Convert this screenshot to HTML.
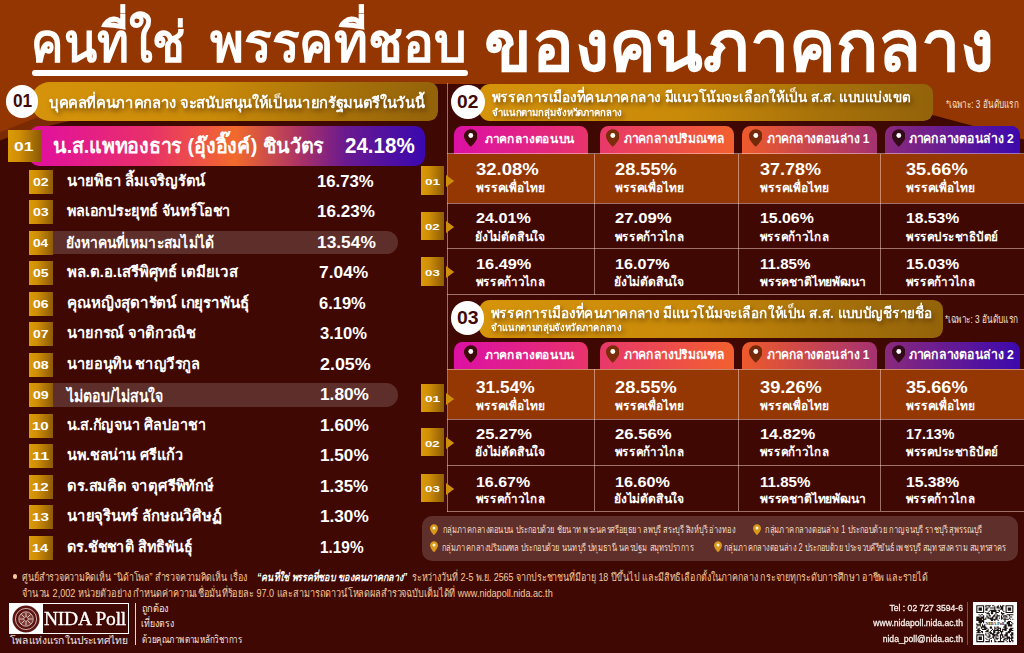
<!DOCTYPE html><html lang="th"><head><meta charset="utf-8"><title>คนที่ใช่ พรรคที่ชอบ ของคนภาคกลาง - NIDA Poll</title><style>html,body{margin:0;padding:0}body{width:1024px;height:653px;overflow:hidden;background:#3f0803;font-family:"Liberation Sans",sans-serif}
#p{position:relative;width:1024px;height:653px;overflow:hidden;background:#3f0803}
.bg{position:absolute;left:0;top:0}
.ab{position:absolute}
h1{margin:0;font-size:0}
svg.t{position:absolute;overflow:visible;width:1px;height:1px}
svg.t text{font-family:"Liberation Sans",sans-serif;white-space:pre}
svg.sh{filter:drop-shadow(2.500px 3.500px 2.500px rgba(70,35,0,.6))}
.nida{font-family:"Liberation Serif",serif;font-size:19.500px;line-height:31px;color:#fff;text-align:center;letter-spacing:-.2px;white-space:nowrap;-webkit-text-stroke:.35px #fff;will-change:transform;transform-origin:50% 50%}
.ct{font-family:"Liberation Sans",sans-serif;font-size:9.600px;line-height:12px;color:#f6eeea;text-align:right;white-space:nowrap;transform:scaleX(.895);transform-origin:100% 50%;-webkit-text-stroke:.3px #f6eeea}
</style></head><body><div id="p">
<svg class="bg" width="1024" height="653" viewBox="0 0 1024 653" aria-hidden="true"><path d="M0 100H80V119Q30 129 0 140.400Z" fill="#7b2b04"/><path d="M0 0H1024V139.5L915 110.2V84H62V108L30.600 120L0 132.300Z" fill="#943601"/></svg>
<h1 class="title" aria-label="คนที่ใช่ พรรคที่ชอบ ของคนภาคกลาง">
<svg class="t" style="left:31.17px;top:62.4px" role="img" aria-label="คนที่ใช่"><text x="0" y="0" font-size="55.3" font-weight="700" fill="#fff" textLength="154.7" lengthAdjust="spacingAndGlyphs">คนที่ใช่</text></svg>
<svg class="t" style="left:209.98px;top:62.4px" role="img" aria-label="พรรคที่ชอบ"><text x="0" y="0" font-size="55.3" font-weight="700" fill="#fff" textLength="256.3" lengthAdjust="spacingAndGlyphs">พรรคที่ชอบ</text></svg>
<svg class="t" style="left:484.28px;top:71.3px" role="img" aria-label="ของคนภาคกลาง"><text x="0" y="0" font-size="72.5" font-weight="700" fill="#fff" textLength="509.9" lengthAdjust="spacingAndGlyphs">ของคนภาคกลาง</text></svg>
</h1>
<div class="ab" style="left:31.8px;top:70.3px;width:436.7px;height:5.8px;background:#fff;border-radius:2.900px"></div>
<div class="ab pill" style="left:31px;top:82px;width:406.5px;height:39px;border-radius:19px 9.5px 9.5px 19px;background:linear-gradient(90deg,#d6940b 0%,#c98a0a 45%,#a8720a 75%,#93630a 100%)"></div>
<div class="ab" style="left:5.6px;top:84.8px;width:32.8px;height:32.8px;border-radius:50%;background:#fff"></div>
<svg class="t" style="left:12.9px;top:107.1px" role="img" aria-label="01"><text x="0" y="0" font-size="17.6" font-weight="700" fill="#3d0a08" textLength="19.2" lengthAdjust="spacingAndGlyphs">01</text></svg>
<svg class="t sh" style="left:48.51px;top:107.5px" role="img" aria-label="บุคคลที่คนภาคกลาง จะสนับสนุนให้เป็นนายกรัฐมนตรีในวันนี้"><text x="0" y="0" font-size="15.3" font-weight="700" fill="#fff" textLength="375.2" lengthAdjust="spacingAndGlyphs">บุคคลที่คนภาคกลาง จะสนับสนุนให้เป็นนายกรัฐมนตรีในวันนี้</text></svg>
<div class="ab" style="left:28.5px;top:125.5px;width:396.5px;height:40.5px;border-radius:10px;background:linear-gradient(90deg,#e10f9d 0%,#e2129a 4%,#e8306a 30%,#f26a2c 52%,#a83068 69%,#6a1a90 80%,#3a08b0 100%)"></div>
<div class="ab" style="left:8.3px;top:129.8px;width:32.5px;height:31.9px;background:linear-gradient(92deg,#dc9c06 0%,#cf8e06 35%,#a87006 72%,#8c5a05 100%)"></div>
<svg class="t" style="left:13.96px;top:150.8px" role="img" aria-label="01"><text x="0" y="0" font-size="13" font-weight="700" fill="#fff" textLength="19.5" lengthAdjust="spacingAndGlyphs">01</text></svg>
<svg class="t" style="left:52.99px;top:152.7px" role="img" aria-label="น.ส.แพทองธาร (อุ๊งอิ๊งค์) ชินวัตร"><text x="0" y="0" font-size="20.2" font-weight="700" fill="#fff" textLength="271.2" lengthAdjust="spacingAndGlyphs">น.ส.แพทองธาร (อุ๊งอิ๊งค์) ชินวัตร</text></svg>
<svg class="t" style="left:344.78px;top:152.85px" role="img" aria-label="24.18%"><text x="0" y="0" font-size="21.2" font-weight="700" fill="#fff" textLength="69.7" lengthAdjust="spacingAndGlyphs">24.18%</text></svg>
<div class="ab" style="left:29.2px;top:169.5px;width:23.6px;height:24px;background:linear-gradient(92deg,#dc9c06 0%,#cf8e06 35%,#a87006 72%,#8c5a05 100%)"></div>
<svg class="t" style="left:32.89px;top:185.6px" role="img" aria-label="02"><text x="0" y="0" font-size="10" font-weight="700" fill="#fff" textLength="15.6" lengthAdjust="spacingAndGlyphs">02</text></svg>
<svg class="t" style="left:66.82px;top:185.8px" role="img" aria-label="นายพิธา ลิ้มเจริญรัตน์"><text x="0" y="0" font-size="15.2" font-weight="700" fill="#fff" textLength="138" lengthAdjust="spacingAndGlyphs">นายพิธา ลิ้มเจริญรัตน์</text></svg>
<svg class="t" style="left:317.1px;top:186.5px" role="img" aria-label="16.73%"><text x="0" y="0" font-size="16.8" font-weight="700" fill="#fff" textLength="56.7" lengthAdjust="spacingAndGlyphs">16.73%</text></svg>
<div class="ab" style="left:29.2px;top:200px;width:23.6px;height:24px;background:linear-gradient(92deg,#dc9c06 0%,#cf8e06 35%,#a87006 72%,#8c5a05 100%)"></div>
<svg class="t" style="left:32.89px;top:216.1px" role="img" aria-label="03"><text x="0" y="0" font-size="10" font-weight="700" fill="#fff" textLength="15.7" lengthAdjust="spacingAndGlyphs">03</text></svg>
<svg class="t" style="left:67.27px;top:216.3px" role="img" aria-label="พลเอกประยุทธ์ จันทร์โอชา"><text x="0" y="0" font-size="15.2" font-weight="700" fill="#fff" textLength="163.5" lengthAdjust="spacingAndGlyphs">พลเอกประยุทธ์ จันทร์โอชา</text></svg>
<svg class="t" style="left:317.1px;top:217px" role="img" aria-label="16.23%"><text x="0" y="0" font-size="16.8" font-weight="700" fill="#fff" textLength="57.8" lengthAdjust="spacingAndGlyphs">16.23%</text></svg>
<div class="ab" style="left:52px;top:230.8px;width:346px;height:23.4px;border-radius:0 11.7px 11.7px 0;background:#5e2e2a"></div>
<div class="ab" style="left:29.2px;top:230.5px;width:23.6px;height:24px;background:linear-gradient(92deg,#dc9c06 0%,#cf8e06 35%,#a87006 72%,#8c5a05 100%)"></div>
<svg class="t" style="left:32.9px;top:246.6px" role="img" aria-label="04"><text x="0" y="0" font-size="10" font-weight="700" fill="#fff" textLength="15.2" lengthAdjust="spacingAndGlyphs">04</text></svg>
<svg class="t" style="left:65.94px;top:248.1px" role="img" aria-label="ยังหาคนที่เหมาะสมไม่ได้"><text x="0" y="0" font-size="15.2" font-weight="700" fill="#fff" textLength="148.1" lengthAdjust="spacingAndGlyphs">ยังหาคนที่เหมาะสมไม่ได้</text></svg>
<svg class="t" style="left:317.1px;top:247.5px" role="img" aria-label="13.54%"><text x="0" y="0" font-size="16.8" font-weight="700" fill="#fff" textLength="58.8" lengthAdjust="spacingAndGlyphs">13.54%</text></svg>
<div class="ab" style="left:29.2px;top:261px;width:23.6px;height:24px;background:linear-gradient(92deg,#dc9c06 0%,#cf8e06 35%,#a87006 72%,#8c5a05 100%)"></div>
<svg class="t" style="left:32.89px;top:277.1px" role="img" aria-label="05"><text x="0" y="0" font-size="10" font-weight="700" fill="#fff" textLength="15.6" lengthAdjust="spacingAndGlyphs">05</text></svg>
<svg class="t" style="left:67.27px;top:277.3px" role="img" aria-label="พล.ต.อ.เสรีพิศุทธ์ เตมียเวส"><text x="0" y="0" font-size="15.2" font-weight="700" fill="#fff" textLength="170.5" lengthAdjust="spacingAndGlyphs">พล.ต.อ.เสรีพิศุทธ์ เตมียเวส</text></svg>
<svg class="t" style="left:319.23px;top:278px" role="img" aria-label="7.04%"><text x="0" y="0" font-size="16.8" font-weight="700" fill="#fff" textLength="49.3" lengthAdjust="spacingAndGlyphs">7.04%</text></svg>
<div class="ab" style="left:29.2px;top:291.5px;width:23.6px;height:24px;background:linear-gradient(92deg,#dc9c06 0%,#cf8e06 35%,#a87006 72%,#8c5a05 100%)"></div>
<svg class="t" style="left:32.89px;top:307.6px" role="img" aria-label="06"><text x="0" y="0" font-size="10" font-weight="700" fill="#fff" textLength="15.5" lengthAdjust="spacingAndGlyphs">06</text></svg>
<svg class="t" style="left:66.82px;top:307.8px" role="img" aria-label="คุณหญิงสุดารัตน์ เกยุราพันธุ์"><text x="0" y="0" font-size="15.2" font-weight="700" fill="#fff" textLength="182.2" lengthAdjust="spacingAndGlyphs">คุณหญิงสุดารัตน์ เกยุราพันธุ์</text></svg>
<svg class="t" style="left:319.05px;top:308.5px" role="img" aria-label="6.19%"><text x="0" y="0" font-size="16.8" font-weight="700" fill="#fff" textLength="46.8" lengthAdjust="spacingAndGlyphs">6.19%</text></svg>
<div class="ab" style="left:29.2px;top:322px;width:23.6px;height:24px;background:linear-gradient(92deg,#dc9c06 0%,#cf8e06 35%,#a87006 72%,#8c5a05 100%)"></div>
<svg class="t" style="left:32.89px;top:338.1px" role="img" aria-label="07"><text x="0" y="0" font-size="10" font-weight="700" fill="#fff" textLength="15.5" lengthAdjust="spacingAndGlyphs">07</text></svg>
<svg class="t" style="left:66.82px;top:338.3px" role="img" aria-label="นายกรณ์ จาติกวณิช"><text x="0" y="0" font-size="15.2" font-weight="700" fill="#fff" textLength="128.4" lengthAdjust="spacingAndGlyphs">นายกรณ์ จาติกวณิช</text></svg>
<svg class="t" style="left:319.67px;top:339px" role="img" aria-label="3.10%"><text x="0" y="0" font-size="16.8" font-weight="700" fill="#fff" textLength="47" lengthAdjust="spacingAndGlyphs">3.10%</text></svg>
<div class="ab" style="left:29.2px;top:352.5px;width:23.6px;height:24px;background:linear-gradient(92deg,#dc9c06 0%,#cf8e06 35%,#a87006 72%,#8c5a05 100%)"></div>
<svg class="t" style="left:32.89px;top:368.6px" role="img" aria-label="08"><text x="0" y="0" font-size="10" font-weight="700" fill="#fff" textLength="15.7" lengthAdjust="spacingAndGlyphs">08</text></svg>
<svg class="t" style="left:66.82px;top:368.8px" role="img" aria-label="นายอนุทิน ชาญวีรกูล"><text x="0" y="0" font-size="15.2" font-weight="700" fill="#fff" textLength="132.7" lengthAdjust="spacingAndGlyphs">นายอนุทิน ชาญวีรกูล</text></svg>
<svg class="t" style="left:319.7px;top:369.5px" role="img" aria-label="2.05%"><text x="0" y="0" font-size="16.8" font-weight="700" fill="#fff" textLength="50.7" lengthAdjust="spacingAndGlyphs">2.05%</text></svg>
<div class="ab" style="left:52px;top:383.3px;width:346px;height:23.4px;border-radius:0 11.7px 11.7px 0;background:#5e2e2a"></div>
<div class="ab" style="left:29.2px;top:383px;width:23.6px;height:24px;background:linear-gradient(92deg,#dc9c06 0%,#cf8e06 35%,#a87006 72%,#8c5a05 100%)"></div>
<svg class="t" style="left:32.89px;top:399.1px" role="img" aria-label="09"><text x="0" y="0" font-size="10" font-weight="700" fill="#fff" textLength="15.7" lengthAdjust="spacingAndGlyphs">09</text></svg>
<svg class="t" style="left:66.88px;top:402.4px" role="img" aria-label="ไม่ตอบ/ไม่สนใจ"><text x="0" y="0" font-size="16.6" font-weight="700" fill="#fff" textLength="96.5" lengthAdjust="spacingAndGlyphs">ไม่ตอบ/ไม่สนใจ</text></svg>
<svg class="t" style="left:319.5px;top:400px" role="img" aria-label="1.80%"><text x="0" y="0" font-size="16.8" font-weight="700" fill="#fff" textLength="48.9" lengthAdjust="spacingAndGlyphs">1.80%</text></svg>
<div class="ab" style="left:29.2px;top:413.5px;width:23.6px;height:24px;background:linear-gradient(92deg,#dc9c06 0%,#cf8e06 35%,#a87006 72%,#8c5a05 100%)"></div>
<svg class="t" style="left:31.82px;top:429.6px" role="img" aria-label="10"><text x="0" y="0" font-size="10" font-weight="700" fill="#fff" textLength="16.7" lengthAdjust="spacingAndGlyphs">10</text></svg>
<svg class="t" style="left:66.82px;top:429.8px" role="img" aria-label="น.ส.กัญจนา ศิลปอาชา"><text x="0" y="0" font-size="15.2" font-weight="700" fill="#fff" textLength="139.2" lengthAdjust="spacingAndGlyphs">น.ส.กัญจนา ศิลปอาชา</text></svg>
<svg class="t" style="left:319.5px;top:430.5px" role="img" aria-label="1.60%"><text x="0" y="0" font-size="16.8" font-weight="700" fill="#fff" textLength="48.9" lengthAdjust="spacingAndGlyphs">1.60%</text></svg>
<div class="ab" style="left:29.2px;top:444px;width:23.6px;height:24px;background:linear-gradient(92deg,#dc9c06 0%,#cf8e06 35%,#a87006 72%,#8c5a05 100%)"></div>
<svg class="t" style="left:31.78px;top:460.1px" role="img" aria-label="11"><text x="0" y="0" font-size="10" font-weight="700" fill="#fff" textLength="17.2" lengthAdjust="spacingAndGlyphs">11</text></svg>
<svg class="t" style="left:66.82px;top:460.3px" role="img" aria-label="นพ.ชลน่าน ศรีแก้ว"><text x="0" y="0" font-size="15.2" font-weight="700" fill="#fff" textLength="116.4" lengthAdjust="spacingAndGlyphs">นพ.ชลน่าน ศรีแก้ว</text></svg>
<svg class="t" style="left:319.5px;top:461px" role="img" aria-label="1.50%"><text x="0" y="0" font-size="16.8" font-weight="700" fill="#fff" textLength="48.7" lengthAdjust="spacingAndGlyphs">1.50%</text></svg>
<div class="ab" style="left:29.2px;top:474.5px;width:23.6px;height:24px;background:linear-gradient(92deg,#dc9c06 0%,#cf8e06 35%,#a87006 72%,#8c5a05 100%)"></div>
<svg class="t" style="left:31.82px;top:490.6px" role="img" aria-label="12"><text x="0" y="0" font-size="10" font-weight="700" fill="#fff" textLength="16.7" lengthAdjust="spacingAndGlyphs">12</text></svg>
<svg class="t" style="left:67.12px;top:490.8px" role="img" aria-label="ดร.สมคิด จาตุศรีพิทักษ์"><text x="0" y="0" font-size="15.2" font-weight="700" fill="#fff" textLength="146.5" lengthAdjust="spacingAndGlyphs">ดร.สมคิด จาตุศรีพิทักษ์</text></svg>
<svg class="t" style="left:319.5px;top:491.5px" role="img" aria-label="1.35%"><text x="0" y="0" font-size="16.8" font-weight="700" fill="#fff" textLength="48.2" lengthAdjust="spacingAndGlyphs">1.35%</text></svg>
<div class="ab" style="left:29.2px;top:505px;width:23.6px;height:24px;background:linear-gradient(92deg,#dc9c06 0%,#cf8e06 35%,#a87006 72%,#8c5a05 100%)"></div>
<svg class="t" style="left:31.82px;top:521.1px" role="img" aria-label="13"><text x="0" y="0" font-size="10" font-weight="700" fill="#fff" textLength="16.8" lengthAdjust="spacingAndGlyphs">13</text></svg>
<svg class="t" style="left:66.82px;top:521.3px" role="img" aria-label="นายจุรินทร์ ลักษณวิศิษฏ์"><text x="0" y="0" font-size="15.2" font-weight="700" fill="#fff" textLength="154.5" lengthAdjust="spacingAndGlyphs">นายจุรินทร์ ลักษณวิศิษฏ์</text></svg>
<svg class="t" style="left:319.5px;top:522px" role="img" aria-label="1.30%"><text x="0" y="0" font-size="16.8" font-weight="700" fill="#fff" textLength="48.7" lengthAdjust="spacingAndGlyphs">1.30%</text></svg>
<div class="ab" style="left:29.2px;top:535.5px;width:23.6px;height:24px;background:linear-gradient(92deg,#dc9c06 0%,#cf8e06 35%,#a87006 72%,#8c5a05 100%)"></div>
<svg class="t" style="left:31.86px;top:551.6px" role="img" aria-label="14"><text x="0" y="0" font-size="10" font-weight="700" fill="#fff" textLength="16.2" lengthAdjust="spacingAndGlyphs">14</text></svg>
<svg class="t" style="left:67.12px;top:551.8px" role="img" aria-label="ดร.ชัชชาติ สิทธิพันธุ์"><text x="0" y="0" font-size="15.2" font-weight="700" fill="#fff" textLength="125.4" lengthAdjust="spacingAndGlyphs">ดร.ชัชชาติ สิทธิพันธุ์</text></svg>
<svg class="t" style="left:319.5px;top:552.5px" role="img" aria-label="1.19%"><text x="0" y="0" font-size="16.8" font-weight="700" fill="#fff" textLength="43.6" lengthAdjust="spacingAndGlyphs">1.19%</text></svg>
<div class="ab" style="left:447px;top:83px;width:1px;height:428.5px;background:rgba(255,215,208,.5)"></div>
<div class="ab pill" style="left:479px;top:83.75px;width:453.75px;height:37.5px;border-radius:11px 9.5px 9.5px 11px;background:linear-gradient(90deg,#d6940b 0%,#c98a0a 45%,#a8720a 75%,#93630a 100%)"></div>
<div class="ab" style="left:451.2px;top:85.1px;width:33.8px;height:33.8px;border-radius:50%;background:#fff"></div>
<svg class="t" style="left:457.41px;top:107.9px" role="img" aria-label="02"><text x="0" y="0" font-size="17.6" font-weight="700" fill="#3d0a08" textLength="21.3" lengthAdjust="spacingAndGlyphs">02</text></svg>
<svg class="t sh" style="left:492.08px;top:102.2px" role="img" aria-label="พรรคการเมืองที่คนภาคกลาง มีแนวโน้มจะเลือกให้เป็น ส.ส. แบบแบ่งเขต"><text x="0" y="0" font-size="14.3" font-weight="700" fill="#fff" textLength="419" lengthAdjust="spacingAndGlyphs">พรรคการเมืองที่คนภาคกลาง มีแนวโน้มจะเลือกให้เป็น ส.ส. แบบแบ่งเขต</text></svg>
<svg class="t sh" style="left:492.05px;top:116px" role="img" aria-label="จำแนกตามกลุ่มจังหวัดภาคกลาง"><text x="0" y="0" font-size="9.7" font-weight="700" fill="#fff" textLength="129.6" lengthAdjust="spacingAndGlyphs">จำแนกตามกลุ่มจังหวัดภาคกลาง</text></svg>
<svg class="t" style="left:945.67px;top:107.8px" role="img" aria-label="*เฉพาะ: 3 อันดับแรก"><text x="0" y="0" font-size="11" fill="#f6e3d4" textLength="72.9" lengthAdjust="spacingAndGlyphs">*เฉพาะ: 3 อันดับแรก</text></svg>
<div class="ab" style="left:453.5px;top:125.5px;width:134.5px;height:28px;border-radius:8.5px 8.5px 0 0;background:linear-gradient(90deg,#dc10a4,#e8336c)"></div>
<svg class="ab" style="left:463.5px;top:128.7px" width="13.6" height="18.2" viewBox="0 0 24 31" aria-hidden="true"><path d="M12 0C5.4 0 0 5.2 0 11.8c0 8 9.5 16.6 12 19.2 2.5-2.6 12-11.200 12-19.200C24 5.200 18.600 0 12 0z" fill="#3d0a0a"/><circle cx="12" cy="11" r="4.300" fill="#fff"/></svg>
<svg class="t" style="left:484.99px;top:143.4px" role="img" aria-label="ภาคกลางตอนบน"><text x="0" y="0" font-size="12.5" font-weight="700" fill="#fff" textLength="90" lengthAdjust="spacingAndGlyphs">ภาคกลางตอนบน</text></svg>
<div class="ab" style="left:599.5px;top:125.5px;width:134px;height:28px;border-radius:8.5px 8.5px 0 0;background:linear-gradient(90deg,#e8386a,#f2602e)"></div>
<svg class="ab" style="left:605.7px;top:128.7px" width="13.6" height="18.2" viewBox="0 0 24 31" aria-hidden="true"><path d="M12 0C5.4 0 0 5.2 0 11.8c0 8 9.5 16.6 12 19.2 2.5-2.6 12-11.200 12-19.200C24 5.200 18.600 0 12 0z" fill="#7a2d08"/><circle cx="12" cy="11" r="4.300" fill="#fff"/></svg>
<svg class="t" style="left:624.19px;top:143.4px" role="img" aria-label="ภาคกลางปริมณฑล"><text x="0" y="0" font-size="12.6" font-weight="700" fill="#fff" textLength="100.4" lengthAdjust="spacingAndGlyphs">ภาคกลางปริมณฑล</text></svg>
<div class="ab" style="left:742px;top:125.5px;width:134.75px;height:28px;border-radius:8.5px 8.5px 0 0;background:linear-gradient(90deg,#ee5a2c,#a43270)"></div>
<svg class="ab" style="left:748.7px;top:128.7px" width="13.6" height="18.2" viewBox="0 0 24 31" aria-hidden="true"><path d="M12 0C5.4 0 0 5.2 0 11.8c0 8 9.5 16.6 12 19.2 2.5-2.6 12-11.200 12-19.200C24 5.200 18.600 0 12 0z" fill="#742a08"/><circle cx="12" cy="11" r="4.300" fill="#fff"/></svg>
<svg class="t" style="left:766.68px;top:143.4px" role="img" aria-label="ภาคกลางตอนล่าง 1"><text x="0" y="0" font-size="12.7" font-weight="700" fill="#fff" textLength="102.4" lengthAdjust="spacingAndGlyphs">ภาคกลางตอนล่าง 1</text></svg>
<div class="ab" style="left:885.3px;top:125.5px;width:134.3px;height:28px;border-radius:8.5px 8.5px 0 0;background:linear-gradient(90deg,#8a2a7c,#3c09ae)"></div>
<svg class="ab" style="left:891.7px;top:128.7px" width="13.6" height="18.2" viewBox="0 0 24 31" aria-hidden="true"><path d="M12 0C5.4 0 0 5.2 0 11.8c0 8 9.5 16.6 12 19.2 2.5-2.6 12-11.200 12-19.200C24 5.200 18.600 0 12 0z" fill="#330a18"/><circle cx="12" cy="11" r="4.300" fill="#fff"/></svg>
<svg class="t" style="left:909.18px;top:143.4px" role="img" aria-label="ภาคกลางตอนล่าง 2"><text x="0" y="0" font-size="12.7" font-weight="700" fill="#fff" textLength="104.7" lengthAdjust="spacingAndGlyphs">ภาคกลางตอนล่าง 2</text></svg>
<div class="ab" style="left:448px;top:153.5px;width:576px;height:49.8px;background:#943702"></div>
<div class="ab" style="left:447px;top:153px;width:577px;height:1px;background:rgba(255,215,208,.5)"></div>
<div class="ab" style="left:447px;top:202.8px;width:577px;height:1px;background:rgba(255,215,208,.5)"></div>
<div class="ab" style="left:447px;top:248.3px;width:577px;height:1px;background:rgba(255,215,208,.5)"></div>
<div class="ab" style="left:447px;top:294px;width:577px;height:1px;background:rgba(255,215,208,.5)"></div>
<div class="ab" style="left:594px;top:153.5px;width:1px;height:141px;background:rgba(255,215,208,.5)"></div>
<div class="ab" style="left:737.5px;top:153.5px;width:1px;height:141px;background:rgba(255,215,208,.5)"></div>
<div class="ab" style="left:879.7px;top:153.5px;width:1px;height:141px;background:rgba(255,215,208,.5)"></div>
<div class="ab" style="left:421.2px;top:166.2px;width:23.3px;height:28.4px;background:linear-gradient(92deg,#dc9c06 0%,#cf8e06 35%,#a87006 72%,#8c5a05 100%)"></div>
<svg class="ab" style="left:446px;top:175.2px" width="8.500" height="12" viewBox="0 0 8.500 12" aria-hidden="true"><path d="M0 0L8.200 6L0 12Z" fill="#cf8e08"/></svg>
<svg class="t" style="left:424.7px;top:184.7px" role="img" aria-label="01"><text x="0" y="0" font-size="9.5" font-weight="700" fill="#fff" textLength="15.2" lengthAdjust="spacingAndGlyphs">01</text></svg>
<svg class="t" style="left:476.37px;top:174.7px" role="img" aria-label="32.08%"><text x="0" y="0" font-size="17.4" font-weight="700" fill="#fff" textLength="62.8" lengthAdjust="spacingAndGlyphs">32.08%</text></svg>
<svg class="t" style="left:475.62px;top:192.4px" role="img" aria-label="พรรคเพื่อไทย"><text x="0" y="0" font-size="12.2" font-weight="700" fill="#fff" textLength="68.6" lengthAdjust="spacingAndGlyphs">พรรคเพื่อไทย</text></svg>
<svg class="t" style="left:615.4px;top:174.7px" role="img" aria-label="28.55%"><text x="0" y="0" font-size="17.4" font-weight="700" fill="#fff" textLength="61.8" lengthAdjust="spacingAndGlyphs">28.55%</text></svg>
<svg class="t" style="left:614.62px;top:192.4px" role="img" aria-label="พรรคเพื่อไทย"><text x="0" y="0" font-size="12.2" font-weight="700" fill="#fff" textLength="68.6" lengthAdjust="spacingAndGlyphs">พรรคเพื่อไทย</text></svg>
<svg class="t" style="left:760.37px;top:174.7px" role="img" aria-label="37.78%"><text x="0" y="0" font-size="17.4" font-weight="700" fill="#fff" textLength="61.1" lengthAdjust="spacingAndGlyphs">37.78%</text></svg>
<svg class="t" style="left:759.62px;top:192.4px" role="img" aria-label="พรรคเพื่อไทย"><text x="0" y="0" font-size="12.2" font-weight="700" fill="#fff" textLength="68.6" lengthAdjust="spacingAndGlyphs">พรรคเพื่อไทย</text></svg>
<svg class="t" style="left:906.37px;top:174.7px" role="img" aria-label="35.66%"><text x="0" y="0" font-size="17.4" font-weight="700" fill="#fff" textLength="61.6" lengthAdjust="spacingAndGlyphs">35.66%</text></svg>
<svg class="t" style="left:905.62px;top:192.4px" role="img" aria-label="พรรคเพื่อไทย"><text x="0" y="0" font-size="12.2" font-weight="700" fill="#fff" textLength="68.6" lengthAdjust="spacingAndGlyphs">พรรคเพื่อไทย</text></svg>
<div class="ab" style="left:421.2px;top:211.85px;width:23.3px;height:28.4px;background:linear-gradient(92deg,#dc9c06 0%,#cf8e06 35%,#a87006 72%,#8c5a05 100%)"></div>
<svg class="ab" style="left:446px;top:220.85px" width="8.500" height="12" viewBox="0 0 8.500 12" aria-hidden="true"><path d="M0 0L8.200 6L0 12Z" fill="#cf8e08"/></svg>
<svg class="t" style="left:424.72px;top:230.35px" role="img" aria-label="02"><text x="0" y="0" font-size="9.5" font-weight="700" fill="#fff" textLength="14.7" lengthAdjust="spacingAndGlyphs">02</text></svg>
<svg class="t" style="left:476.39px;top:223.1px" role="img" aria-label="24.01%"><text x="0" y="0" font-size="15.1" font-weight="700" fill="#fff" textLength="54.9" lengthAdjust="spacingAndGlyphs">24.01%</text></svg>
<svg class="t" style="left:475.43px;top:240.9px" role="img" aria-label="ยังไม่ตัดสินใจ"><text x="0" y="0" font-size="12.4" font-weight="700" fill="#fff" textLength="69.9" lengthAdjust="spacingAndGlyphs">ยังไม่ตัดสินใจ</text></svg>
<svg class="t" style="left:615.39px;top:223.1px" role="img" aria-label="27.09%"><text x="0" y="0" font-size="15.1" font-weight="700" fill="#fff" textLength="56.7" lengthAdjust="spacingAndGlyphs">27.09%</text></svg>
<svg class="t" style="left:614.61px;top:240.9px" role="img" aria-label="พรรคก้าวไกล"><text x="0" y="0" font-size="12.4" font-weight="700" fill="#fff" textLength="69" lengthAdjust="spacingAndGlyphs">พรรคก้าวไกล</text></svg>
<svg class="t" style="left:760.21px;top:223.1px" role="img" aria-label="15.06%"><text x="0" y="0" font-size="15.1" font-weight="700" fill="#fff" textLength="53.8" lengthAdjust="spacingAndGlyphs">15.06%</text></svg>
<svg class="t" style="left:759.61px;top:240.9px" role="img" aria-label="พรรคก้าวไกล"><text x="0" y="0" font-size="12.4" font-weight="700" fill="#fff" textLength="69" lengthAdjust="spacingAndGlyphs">พรรคก้าวไกล</text></svg>
<svg class="t" style="left:906.21px;top:223.1px" role="img" aria-label="18.53%"><text x="0" y="0" font-size="15.1" font-weight="700" fill="#fff" textLength="53.3" lengthAdjust="spacingAndGlyphs">18.53%</text></svg>
<svg class="t" style="left:905.61px;top:240.9px" role="img" aria-label="พรรคประชาธิปัตย์"><text x="0" y="0" font-size="12.4" font-weight="700" fill="#fff" textLength="91.9" lengthAdjust="spacingAndGlyphs">พรรคประชาธิปัตย์</text></svg>
<div class="ab" style="left:421.2px;top:257.45px;width:23.3px;height:28.4px;background:linear-gradient(92deg,#dc9c06 0%,#cf8e06 35%,#a87006 72%,#8c5a05 100%)"></div>
<svg class="ab" style="left:446px;top:266.45px" width="8.500" height="12" viewBox="0 0 8.500 12" aria-hidden="true"><path d="M0 0L8.200 6L0 12Z" fill="#cf8e08"/></svg>
<svg class="t" style="left:424.71px;top:275.95px" role="img" aria-label="03"><text x="0" y="0" font-size="9.5" font-weight="700" fill="#fff" textLength="14.8" lengthAdjust="spacingAndGlyphs">03</text></svg>
<svg class="t" style="left:476.21px;top:269.2px" role="img" aria-label="16.49%"><text x="0" y="0" font-size="15.1" font-weight="700" fill="#fff" textLength="55.4" lengthAdjust="spacingAndGlyphs">16.49%</text></svg>
<svg class="t" style="left:475.61px;top:286.4px" role="img" aria-label="พรรคก้าวไกล"><text x="0" y="0" font-size="12.4" font-weight="700" fill="#fff" textLength="69" lengthAdjust="spacingAndGlyphs">พรรคก้าวไกล</text></svg>
<svg class="t" style="left:615.21px;top:269.2px" role="img" aria-label="16.07%"><text x="0" y="0" font-size="15.1" font-weight="700" fill="#fff" textLength="54.7" lengthAdjust="spacingAndGlyphs">16.07%</text></svg>
<svg class="t" style="left:614.43px;top:286.4px" role="img" aria-label="ยังไม่ตัดสินใจ"><text x="0" y="0" font-size="12.4" font-weight="700" fill="#fff" textLength="69.9" lengthAdjust="spacingAndGlyphs">ยังไม่ตัดสินใจ</text></svg>
<svg class="t" style="left:760.21px;top:269.2px" role="img" aria-label="11.85%"><text x="0" y="0" font-size="15.1" font-weight="700" fill="#fff" textLength="50.3" lengthAdjust="spacingAndGlyphs">11.85%</text></svg>
<svg class="t" style="left:759.61px;top:286.4px" role="img" aria-label="พรรคชาติไทยพัฒนา"><text x="0" y="0" font-size="12.4" font-weight="700" fill="#fff" textLength="105.4" lengthAdjust="spacingAndGlyphs">พรรคชาติไทยพัฒนา</text></svg>
<svg class="t" style="left:906.21px;top:269.2px" role="img" aria-label="15.03%"><text x="0" y="0" font-size="15.1" font-weight="700" fill="#fff" textLength="53.1" lengthAdjust="spacingAndGlyphs">15.03%</text></svg>
<svg class="t" style="left:905.61px;top:286.4px" role="img" aria-label="พรรคก้าวไกล"><text x="0" y="0" font-size="12.4" font-weight="700" fill="#fff" textLength="69" lengthAdjust="spacingAndGlyphs">พรรคก้าวไกล</text></svg>
<div class="ab pill" style="left:479px;top:300px;width:464px;height:37.5px;border-radius:11px 9.5px 9.5px 11px;background:linear-gradient(90deg,#d6940b 0%,#c98a0a 45%,#a8720a 75%,#93630a 100%)"></div>
<div class="ab" style="left:450.6px;top:301.1px;width:33.8px;height:33.8px;border-radius:50%;background:#fff"></div>
<svg class="t" style="left:456.7px;top:323.9px" role="img" aria-label="03"><text x="0" y="0" font-size="17.6" font-weight="700" fill="#3d0a08" textLength="21.6" lengthAdjust="spacingAndGlyphs">03</text></svg>
<svg class="t sh" style="left:491.08px;top:318.1px" role="img" aria-label="พรรคการเมืองที่คนภาคกลาง มีแนวโน้มจะเลือกให้เป็น ส.ส. แบบบัญชีรายชื่อ"><text x="0" y="0" font-size="14.3" font-weight="700" fill="#fff" textLength="441.7" lengthAdjust="spacingAndGlyphs">พรรคการเมืองที่คนภาคกลาง มีแนวโน้มจะเลือกให้เป็น ส.ส. แบบบัญชีรายชื่อ</text></svg>
<svg class="t sh" style="left:491.05px;top:331.4px" role="img" aria-label="จำแนกตามกลุ่มจังหวัดภาคกลาง"><text x="0" y="0" font-size="9.8" font-weight="700" fill="#fff" textLength="130.6" lengthAdjust="spacingAndGlyphs">จำแนกตามกลุ่มจังหวัดภาคกลาง</text></svg>
<svg class="t" style="left:945.17px;top:322.5px" role="img" aria-label="*เฉพาะ: 3 อันดับแรก"><text x="0" y="0" font-size="11" fill="#f6e3d4" textLength="73.4" lengthAdjust="spacingAndGlyphs">*เฉพาะ: 3 อันดับแรก</text></svg>
<div class="ab" style="left:453.5px;top:342.2px;width:134.5px;height:26.8px;border-radius:8.5px 8.5px 0 0;background:linear-gradient(90deg,#dc10a4,#e8336c)"></div>
<svg class="ab" style="left:463.5px;top:345.4px" width="13.6" height="18.2" viewBox="0 0 24 31" aria-hidden="true"><path d="M12 0C5.4 0 0 5.2 0 11.8c0 8 9.5 16.6 12 19.2 2.5-2.6 12-11.200 12-19.200C24 5.200 18.600 0 12 0z" fill="#3d0a0a"/><circle cx="12" cy="11" r="4.300" fill="#fff"/></svg>
<svg class="t" style="left:484.99px;top:358.9px" role="img" aria-label="ภาคกลางตอนบน"><text x="0" y="0" font-size="12.5" font-weight="700" fill="#fff" textLength="90" lengthAdjust="spacingAndGlyphs">ภาคกลางตอนบน</text></svg>
<div class="ab" style="left:599.5px;top:342.2px;width:134px;height:26.8px;border-radius:8.5px 8.5px 0 0;background:linear-gradient(90deg,#e8386a,#f2602e)"></div>
<svg class="ab" style="left:605.7px;top:345.4px" width="13.6" height="18.2" viewBox="0 0 24 31" aria-hidden="true"><path d="M12 0C5.4 0 0 5.2 0 11.8c0 8 9.5 16.6 12 19.2 2.5-2.6 12-11.200 12-19.200C24 5.200 18.600 0 12 0z" fill="#7a2d08"/><circle cx="12" cy="11" r="4.300" fill="#fff"/></svg>
<svg class="t" style="left:624.19px;top:358.9px" role="img" aria-label="ภาคกลางปริมณฑล"><text x="0" y="0" font-size="12.6" font-weight="700" fill="#fff" textLength="100.4" lengthAdjust="spacingAndGlyphs">ภาคกลางปริมณฑล</text></svg>
<div class="ab" style="left:742px;top:342.2px;width:134.75px;height:26.8px;border-radius:8.5px 8.5px 0 0;background:linear-gradient(90deg,#ee5a2c,#a43270)"></div>
<svg class="ab" style="left:748.7px;top:345.4px" width="13.6" height="18.2" viewBox="0 0 24 31" aria-hidden="true"><path d="M12 0C5.4 0 0 5.2 0 11.8c0 8 9.5 16.6 12 19.2 2.5-2.6 12-11.200 12-19.200C24 5.200 18.600 0 12 0z" fill="#742a08"/><circle cx="12" cy="11" r="4.300" fill="#fff"/></svg>
<svg class="t" style="left:766.68px;top:358.9px" role="img" aria-label="ภาคกลางตอนล่าง 1"><text x="0" y="0" font-size="12.7" font-weight="700" fill="#fff" textLength="102.4" lengthAdjust="spacingAndGlyphs">ภาคกลางตอนล่าง 1</text></svg>
<div class="ab" style="left:885.3px;top:342.2px;width:134.3px;height:26.8px;border-radius:8.5px 8.5px 0 0;background:linear-gradient(90deg,#8a2a7c,#3c09ae)"></div>
<svg class="ab" style="left:891.7px;top:345.4px" width="13.6" height="18.2" viewBox="0 0 24 31" aria-hidden="true"><path d="M12 0C5.4 0 0 5.2 0 11.8c0 8 9.5 16.6 12 19.2 2.5-2.6 12-11.200 12-19.200C24 5.200 18.600 0 12 0z" fill="#330a18"/><circle cx="12" cy="11" r="4.300" fill="#fff"/></svg>
<svg class="t" style="left:909.18px;top:358.9px" role="img" aria-label="ภาคกลางตอนล่าง 2"><text x="0" y="0" font-size="12.7" font-weight="700" fill="#fff" textLength="104.7" lengthAdjust="spacingAndGlyphs">ภาคกลางตอนล่าง 2</text></svg>
<div class="ab" style="left:448px;top:369.2px;width:576px;height:50.2px;background:#943702"></div>
<div class="ab" style="left:447px;top:368.7px;width:577px;height:1px;background:rgba(255,215,208,.5)"></div>
<div class="ab" style="left:447px;top:418.9px;width:577px;height:1px;background:rgba(255,215,208,.5)"></div>
<div class="ab" style="left:447px;top:464.5px;width:577px;height:1px;background:rgba(255,215,208,.5)"></div>
<div class="ab" style="left:447px;top:510.8px;width:577px;height:1px;background:rgba(255,215,208,.5)"></div>
<div class="ab" style="left:594px;top:369.2px;width:1px;height:142.1px;background:rgba(255,215,208,.5)"></div>
<div class="ab" style="left:737.5px;top:369.2px;width:1px;height:142.1px;background:rgba(255,215,208,.5)"></div>
<div class="ab" style="left:879.7px;top:369.2px;width:1px;height:142.1px;background:rgba(255,215,208,.5)"></div>
<div class="ab" style="left:421.2px;top:383.6px;width:23.3px;height:28.4px;background:linear-gradient(92deg,#dc9c06 0%,#cf8e06 35%,#a87006 72%,#8c5a05 100%)"></div>
<svg class="ab" style="left:446px;top:392.6px" width="8.500" height="12" viewBox="0 0 8.500 12" aria-hidden="true"><path d="M0 0L8.200 6L0 12Z" fill="#cf8e08"/></svg>
<svg class="t" style="left:424.7px;top:402.1px" role="img" aria-label="01"><text x="0" y="0" font-size="9.5" font-weight="700" fill="#fff" textLength="15.2" lengthAdjust="spacingAndGlyphs">01</text></svg>
<svg class="t" style="left:476.37px;top:393.3px" role="img" aria-label="31.54%"><text x="0" y="0" font-size="17.4" font-weight="700" fill="#fff" textLength="58.6" lengthAdjust="spacingAndGlyphs">31.54%</text></svg>
<svg class="t" style="left:475.62px;top:410.4px" role="img" aria-label="พรรคเพื่อไทย"><text x="0" y="0" font-size="12.2" font-weight="700" fill="#fff" textLength="68.6" lengthAdjust="spacingAndGlyphs">พรรคเพื่อไทย</text></svg>
<svg class="t" style="left:615.4px;top:393.3px" role="img" aria-label="28.55%"><text x="0" y="0" font-size="17.4" font-weight="700" fill="#fff" textLength="61.8" lengthAdjust="spacingAndGlyphs">28.55%</text></svg>
<svg class="t" style="left:614.62px;top:410.4px" role="img" aria-label="พรรคเพื่อไทย"><text x="0" y="0" font-size="12.2" font-weight="700" fill="#fff" textLength="68.6" lengthAdjust="spacingAndGlyphs">พรรคเพื่อไทย</text></svg>
<svg class="t" style="left:760.37px;top:393.3px" role="img" aria-label="39.26%"><text x="0" y="0" font-size="17.4" font-weight="700" fill="#fff" textLength="61.8" lengthAdjust="spacingAndGlyphs">39.26%</text></svg>
<svg class="t" style="left:759.62px;top:410.4px" role="img" aria-label="พรรคเพื่อไทย"><text x="0" y="0" font-size="12.2" font-weight="700" fill="#fff" textLength="68.6" lengthAdjust="spacingAndGlyphs">พรรคเพื่อไทย</text></svg>
<svg class="t" style="left:906.37px;top:393.3px" role="img" aria-label="35.66%"><text x="0" y="0" font-size="17.4" font-weight="700" fill="#fff" textLength="61.6" lengthAdjust="spacingAndGlyphs">35.66%</text></svg>
<svg class="t" style="left:905.62px;top:410.4px" role="img" aria-label="พรรคเพื่อไทย"><text x="0" y="0" font-size="12.2" font-weight="700" fill="#fff" textLength="68.6" lengthAdjust="spacingAndGlyphs">พรรคเพื่อไทย</text></svg>
<div class="ab" style="left:421.2px;top:428px;width:23.3px;height:28.4px;background:linear-gradient(92deg,#dc9c06 0%,#cf8e06 35%,#a87006 72%,#8c5a05 100%)"></div>
<svg class="ab" style="left:446px;top:437px" width="8.500" height="12" viewBox="0 0 8.500 12" aria-hidden="true"><path d="M0 0L8.200 6L0 12Z" fill="#cf8e08"/></svg>
<svg class="t" style="left:424.72px;top:446.5px" role="img" aria-label="02"><text x="0" y="0" font-size="9.5" font-weight="700" fill="#fff" textLength="14.7" lengthAdjust="spacingAndGlyphs">02</text></svg>
<svg class="t" style="left:476.39px;top:438.7px" role="img" aria-label="25.27%"><text x="0" y="0" font-size="15.1" font-weight="700" fill="#fff" textLength="56" lengthAdjust="spacingAndGlyphs">25.27%</text></svg>
<svg class="t" style="left:475.43px;top:456.4px" role="img" aria-label="ยังไม่ตัดสินใจ"><text x="0" y="0" font-size="12.4" font-weight="700" fill="#fff" textLength="69.9" lengthAdjust="spacingAndGlyphs">ยังไม่ตัดสินใจ</text></svg>
<svg class="t" style="left:615.39px;top:438.7px" role="img" aria-label="26.56%"><text x="0" y="0" font-size="15.1" font-weight="700" fill="#fff" textLength="56.6" lengthAdjust="spacingAndGlyphs">26.56%</text></svg>
<svg class="t" style="left:614.61px;top:456.4px" role="img" aria-label="พรรคก้าวไกล"><text x="0" y="0" font-size="12.4" font-weight="700" fill="#fff" textLength="69" lengthAdjust="spacingAndGlyphs">พรรคก้าวไกล</text></svg>
<svg class="t" style="left:760.21px;top:438.7px" role="img" aria-label="14.82%"><text x="0" y="0" font-size="15.1" font-weight="700" fill="#fff" textLength="55.3" lengthAdjust="spacingAndGlyphs">14.82%</text></svg>
<svg class="t" style="left:759.61px;top:456.4px" role="img" aria-label="พรรคก้าวไกล"><text x="0" y="0" font-size="12.4" font-weight="700" fill="#fff" textLength="69" lengthAdjust="spacingAndGlyphs">พรรคก้าวไกล</text></svg>
<svg class="t" style="left:906.21px;top:438.7px" role="img" aria-label="17.13%"><text x="0" y="0" font-size="15.1" font-weight="700" fill="#fff" textLength="48.5" lengthAdjust="spacingAndGlyphs">17.13%</text></svg>
<svg class="t" style="left:905.61px;top:456.4px" role="img" aria-label="พรรคประชาธิปัตย์"><text x="0" y="0" font-size="12.4" font-weight="700" fill="#fff" textLength="91.9" lengthAdjust="spacingAndGlyphs">พรรคประชาธิปัตย์</text></svg>
<div class="ab" style="left:421.2px;top:473.95px;width:23.3px;height:28.4px;background:linear-gradient(92deg,#dc9c06 0%,#cf8e06 35%,#a87006 72%,#8c5a05 100%)"></div>
<svg class="ab" style="left:446px;top:482.95px" width="8.500" height="12" viewBox="0 0 8.500 12" aria-hidden="true"><path d="M0 0L8.200 6L0 12Z" fill="#cf8e08"/></svg>
<svg class="t" style="left:424.71px;top:492.45px" role="img" aria-label="03"><text x="0" y="0" font-size="9.5" font-weight="700" fill="#fff" textLength="14.8" lengthAdjust="spacingAndGlyphs">03</text></svg>
<svg class="t" style="left:476.21px;top:486.6px" role="img" aria-label="16.67%"><text x="0" y="0" font-size="15.1" font-weight="700" fill="#fff" textLength="54.1" lengthAdjust="spacingAndGlyphs">16.67%</text></svg>
<svg class="t" style="left:475.61px;top:503.4px" role="img" aria-label="พรรคก้าวไกล"><text x="0" y="0" font-size="12.4" font-weight="700" fill="#fff" textLength="69" lengthAdjust="spacingAndGlyphs">พรรคก้าวไกล</text></svg>
<svg class="t" style="left:615.21px;top:486.6px" role="img" aria-label="16.60%"><text x="0" y="0" font-size="15.1" font-weight="700" fill="#fff" textLength="54.9" lengthAdjust="spacingAndGlyphs">16.60%</text></svg>
<svg class="t" style="left:614.43px;top:503.4px" role="img" aria-label="ยังไม่ตัดสินใจ"><text x="0" y="0" font-size="12.4" font-weight="700" fill="#fff" textLength="69.9" lengthAdjust="spacingAndGlyphs">ยังไม่ตัดสินใจ</text></svg>
<svg class="t" style="left:760.21px;top:486.6px" role="img" aria-label="11.85%"><text x="0" y="0" font-size="15.1" font-weight="700" fill="#fff" textLength="50.3" lengthAdjust="spacingAndGlyphs">11.85%</text></svg>
<svg class="t" style="left:759.61px;top:503.4px" role="img" aria-label="พรรคชาติไทยพัฒนา"><text x="0" y="0" font-size="12.4" font-weight="700" fill="#fff" textLength="105.4" lengthAdjust="spacingAndGlyphs">พรรคชาติไทยพัฒนา</text></svg>
<svg class="t" style="left:906.21px;top:486.6px" role="img" aria-label="15.38%"><text x="0" y="0" font-size="15.1" font-weight="700" fill="#fff" textLength="53.3" lengthAdjust="spacingAndGlyphs">15.38%</text></svg>
<svg class="t" style="left:905.61px;top:503.4px" role="img" aria-label="พรรคก้าวไกล"><text x="0" y="0" font-size="12.4" font-weight="700" fill="#fff" textLength="69" lengthAdjust="spacingAndGlyphs">พรรคก้าวไกล</text></svg>
<div class="ab" style="left:422px;top:515.8px;width:595.8px;height:45.2px;border-radius:10px;background:#5e2f2b"></div>
<svg class="ab" style="left:430px;top:523.9px" width="8" height="11.500" viewBox="0 0 24 33" aria-hidden="true"><path d="M12 0C5.4 0 0 5.2 0 11.8c0 8 9.5 18.600 12 21.200 2.5-2.6 12-13.200 12-21.200C24 5.200 18.600 0 12 0z" fill="#d9981a"/><circle cx="12" cy="11.500" r="4.500" fill="#fff6e0"/></svg>
<svg class="t" style="left:442.71px;top:533.4px" role="img" aria-label="กลุ่มภาคกลางตอนบน ประกอบด้วย ชัยนาท พระนครศรีอยุธยา ลพบุรี สระบุรี สิงห์บุรี อ่างทอง"><text x="0" y="0" font-size="10" fill="#f3dcc4" textLength="292.7" lengthAdjust="spacingAndGlyphs">กลุ่มภาคกลางตอนบน ประกอบด้วย ชัยนาท พระนครศรีอยุธยา ลพบุรี สระบุรี สิงห์บุรี อ่างทอง</text></svg>
<svg class="ab" style="left:753px;top:523.9px" width="8" height="11.500" viewBox="0 0 24 33" aria-hidden="true"><path d="M12 0C5.4 0 0 5.2 0 11.8c0 8 9.5 18.600 12 21.200 2.5-2.6 12-13.200 12-21.200C24 5.200 18.600 0 12 0z" fill="#d9981a"/><circle cx="12" cy="11.500" r="4.500" fill="#fff6e0"/></svg>
<svg class="t" style="left:765.2px;top:533.4px" role="img" aria-label="กลุ่มภาคกลางตอนล่าง 1 ประกอบด้วย กาญจนบุรี ราชบุรี สุพรรณบุรี"><text x="0" y="0" font-size="10" fill="#f3dcc4" textLength="217" lengthAdjust="spacingAndGlyphs">กลุ่มภาคกลางตอนล่าง 1 ประกอบด้วย กาญจนบุรี ราชบุรี สุพรรณบุรี</text></svg>
<svg class="ab" style="left:430px;top:541.3px" width="8" height="11.500" viewBox="0 0 24 33" aria-hidden="true"><path d="M12 0C5.4 0 0 5.2 0 11.8c0 8 9.5 18.600 12 21.200 2.5-2.6 12-13.200 12-21.200C24 5.200 18.600 0 12 0z" fill="#d9981a"/><circle cx="12" cy="11.500" r="4.500" fill="#fff6e0"/></svg>
<svg class="t" style="left:442.2px;top:550.7px" role="img" aria-label="กลุ่มภาคกลางปริมณฑล ประกอบด้วย นนทบุรี ปทุมธานี นครปฐม สมุทรปราการ"><text x="0" y="0" font-size="10" fill="#f3dcc4" textLength="251.6" lengthAdjust="spacingAndGlyphs">กลุ่มภาคกลางปริมณฑล ประกอบด้วย นนทบุรี ปทุมธานี นครปฐม สมุทรปราการ</text></svg>
<svg class="ab" style="left:713.5px;top:541.3px" width="8" height="11.500" viewBox="0 0 24 33" aria-hidden="true"><path d="M12 0C5.4 0 0 5.2 0 11.8c0 8 9.5 18.600 12 21.200 2.5-2.6 12-13.200 12-21.200C24 5.200 18.600 0 12 0z" fill="#d9981a"/><circle cx="12" cy="11.500" r="4.500" fill="#fff6e0"/></svg>
<svg class="t" style="left:724.21px;top:550.7px" role="img" aria-label="กลุ่มภาคกลางตอนล่าง 2 ประกอบด้วย ประจวบคีรีขันธ์ เพชรบุรี สมุทรสงคราม สมุทรสาคร"><text x="0" y="0" font-size="10" fill="#f3dcc4" textLength="282.2" lengthAdjust="spacingAndGlyphs">กลุ่มภาคกลางตอนล่าง 2 ประกอบด้วย ประจวบคีรีขันธ์ เพชรบุรี สมุทรสงคราม สมุทรสาคร</text></svg>
<div class="ab" style="left:12.6px;top:574.2px;width:4.6px;height:4.6px;border-radius:50%;background:#f4c99b"></div>
<svg class="t" style="left:22.16px;top:580.5px" role="img" aria-label="ศูนย์สำรวจความคิดเห็น “นิด้าโพล” สำรวจความคิดเห็น เรื่อง"><text x="0" y="0" font-size="11" fill="#f4c99b" textLength="225.5" lengthAdjust="spacingAndGlyphs">ศูนย์สำรวจความคิดเห็น “นิด้าโพล” สำรวจความคิดเห็น เรื่อง</text></svg>
<svg class="t" style="left:257.37px;top:580.5px" role="img" aria-label="“คนที่ใช่ พรรคที่ชอบ ของคนภาคกลาง”"><text x="0" y="0" font-size="11" font-style="italic" font-weight="700" fill="#fff" textLength="150.3" lengthAdjust="spacingAndGlyphs">“คนที่ใช่ พรรคที่ชอบ ของคนภาคกลาง”</text></svg>
<svg class="t" style="left:411.64px;top:580.5px" role="img" aria-label="ระหว่างวันที่ 2-5 พ.ย. 2565 จากประชาชนที่มีอายุ 18 ปีขึ้นไป และมีสิทธิเลือกตั้งในภาคกลาง กระจายทุกระดับการศึกษา อาชีพ และรายได้"><text x="0" y="0" font-size="11" fill="#f4c99b" textLength="515.6" lengthAdjust="spacingAndGlyphs">ระหว่างวันที่ 2-5 พ.ย. 2565 จากประชาชนที่มีอายุ 18 ปีขึ้นไป และมีสิทธิเลือกตั้งในภาคกลาง กระจายทุกระดับการศึกษา อาชีพ และรายได้</text></svg>
<svg class="t" style="left:22.44px;top:596.6px" role="img" aria-label="จำนวน 2,002 หน่วยตัวอย่าง กำหนดค่าความเชื่อมั่นที่ร้อยละ 97.0 และสามารถดาวน์โหลดผลสำรวจฉบับเต็มได้ที่ www.nidapoll.nida.ac.th"><text x="0" y="0" font-size="11" fill="#f4c99b" textLength="530.7" lengthAdjust="spacingAndGlyphs">จำนวน 2,002 หน่วยตัวอย่าง กำหนดค่าความเชื่อมั่นที่ร้อยละ 97.0 และสามารถดาวน์โหลดผลสำรวจฉบับเต็มได้ที่ www.nidapoll.nida.ac.th</text></svg>
<div class="ab" style="left:9px;top:603px;width:120.3px;height:31px;border:1px solid #fff;box-sizing:border-box"></div>
<div class="ab" style="left:9px;top:603px;width:33.5px;height:31px;background:#fff"></div>
<svg class="ab" style="left:11.500px;top:604.500px" width="28" height="28" viewBox="0 0 28 28" aria-hidden="true"><circle cx="14" cy="14" r="13.500" fill="#5a1512"/><circle cx="14" cy="14" r="10.600" fill="none" stroke="#d9b9b4" stroke-width=".9"/><circle cx="14" cy="14" r="7.200" fill="#7d3a35" stroke="#e6d0cc" stroke-width=".8"/><path d="M14 7.500V20.500M7.500 14H20.500M9.400 9.400L18.600 18.600M18.600 9.400L9.400 18.600" stroke="#e6d0cc" stroke-width=".9"/><circle cx="14" cy="14" r="2.200" fill="#5a1512" stroke="#e6d0cc" stroke-width=".7"/></svg>
<div class="ab nida" style="left:42.500px;top:603.300px;width:84px;height:31px">NIDA Poll</div>
<svg class="t" style="left:10.32px;top:643.6px" role="img" aria-label="โพลแห่งแรกในประเทศไทย"><text x="0" y="0" font-size="10" fill="#f1e4e0" textLength="118.5" lengthAdjust="spacingAndGlyphs">โพลแห่งแรกในประเทศไทย</text></svg>
<div class="ab" style="left:135.3px;top:603px;width:1px;height:42px;background:#e9d6d0"></div>
<svg class="t" style="left:141.62px;top:611.6px" role="img" aria-label="ถูกต้อง"><text x="0" y="0" font-size="10.5" fill="#f3e6e0" textLength="26.5" lengthAdjust="spacingAndGlyphs">ถูกต้อง</text></svg>
<svg class="t" style="left:141.43px;top:627.2px" role="img" aria-label="เที่ยงตรง"><text x="0" y="0" font-size="10.5" fill="#f3e6e0" textLength="33.3" lengthAdjust="spacingAndGlyphs">เที่ยงตรง</text></svg>
<svg class="t" style="left:141.63px;top:642.5px" role="img" aria-label="ด้วยคุณภาพตามหลักวิชาการ"><text x="0" y="0" font-size="10.5" fill="#f3e6e0" textLength="100.4" lengthAdjust="spacingAndGlyphs">ด้วยคุณภาพตามหลักวิชาการ</text></svg>
<div class="ab ct" style="left:760px;top:601.700px;width:203px">Tel : 02 727 3594-6</div>
<div class="ab ct" style="left:760px;top:617.300px;width:203px">www.nidapoll.nida.ac.th</div>
<div class="ab ct" style="left:760px;top:633.100px;width:203px">nida_poll@nida.ac.th</div>
<div class="ab" style="left:967.3px;top:602px;width:1px;height:43px;background:#8a4a3a"></div>
<svg class="ab" style="left:973.200px;top:601.900px;background:#fff" width="43.700" height="43.400" viewBox="-2.800 -2.800 38.600 38.600" aria-label="QR code" role="img"><path d="M0 0h7v1h-7zM8 0h5v1h-5zM14 0h2v1h-2zM19 0h1v1h-1zM21 0h1v1h-1zM23 0h2v1h-2zM26 0h7v1h-7zM0 1h1v1h-1zM6 1h1v1h-1zM8 1h1v1h-1zM11 1h1v1h-1zM16 1h1v1h-1zM18 1h2v1h-2zM21 1h3v1h-3zM26 1h1v1h-1zM32 1h1v1h-1zM0 2h1v1h-1zM2 2h3v1h-3zM6 2h1v1h-1zM9 2h2v1h-2zM12 2h5v1h-5zM18 2h3v1h-3zM22 2h2v1h-2zM26 2h1v1h-1zM28 2h3v1h-3zM32 2h1v1h-1zM0 3h1v1h-1zM2 3h3v1h-3zM6 3h1v1h-1zM8 3h2v1h-2zM16 3h1v1h-1zM21 3h3v1h-3zM26 3h1v1h-1zM28 3h3v1h-3zM32 3h1v1h-1zM0 4h1v1h-1zM2 4h3v1h-3zM6 4h1v1h-1zM8 4h2v1h-2zM12 4h6v1h-6zM19 4h2v1h-2zM23 4h1v1h-1zM26 4h1v1h-1zM28 4h3v1h-3zM32 4h1v1h-1zM0 5h1v1h-1zM6 5h1v1h-1zM11 5h1v1h-1zM13 5h5v1h-5zM20 5h1v1h-1zM24 5h1v1h-1zM26 5h1v1h-1zM32 5h1v1h-1zM0 6h7v1h-7zM8 6h1v1h-1zM10 6h1v1h-1zM13 6h2v1h-2zM17 6h3v1h-3zM22 6h1v1h-1zM26 6h7v1h-7zM9 7h3v1h-3zM13 7h2v1h-2zM17 7h1v1h-1zM22 7h3v1h-3zM2 8h1v1h-1zM4 8h2v1h-2zM11 8h1v1h-1zM16 8h1v1h-1zM18 8h1v1h-1zM23 8h1v1h-1zM27 8h6v1h-6zM3 9h1v1h-1zM6 9h1v1h-1zM9 9h1v1h-1zM11 9h2v1h-2zM15 9h2v1h-2zM18 9h3v1h-3zM22 9h1v1h-1zM24 9h3v1h-3zM29 9h1v1h-1zM0 10h3v1h-3zM4 10h3v1h-3zM9 10h2v1h-2zM14 10h2v1h-2zM17 10h2v1h-2zM22 10h1v1h-1zM24 10h1v1h-1zM26 10h2v1h-2zM30 10h2v1h-2zM0 11h7v1h-7zM8 11h1v1h-1zM10 11h5v1h-5zM17 11h2v1h-2zM20 11h1v1h-1zM22 11h2v1h-2zM25 11h1v1h-1zM29 11h1v1h-1zM0 12h5v1h-5zM6 12h3v1h-3zM12 12h7v1h-7zM22 12h1v1h-1zM24 12h5v1h-5zM30 12h1v1h-1zM32 12h1v1h-1zM0 13h7v1h-7zM13 13h2v1h-2zM16 13h1v1h-1zM19 13h1v1h-1zM25 13h1v1h-1zM2 14h5v1h-5zM25 14h1v1h-1zM28 14h3v1h-3zM2 15h3v1h-3zM6 15h1v1h-1zM27 15h3v1h-3zM31 15h1v1h-1zM0 16h1v1h-1zM3 16h1v1h-1zM27 16h3v1h-3zM32 16h1v1h-1zM0 17h4v1h-4zM5 17h1v1h-1zM7 17h1v1h-1zM25 17h2v1h-2zM28 17h4v1h-4zM1 18h1v1h-1zM3 18h1v1h-1zM5 18h3v1h-3zM25 18h2v1h-2zM28 18h4v1h-4zM0 19h1v1h-1zM4 19h5v1h-5zM12 19h2v1h-2zM16 19h1v1h-1zM18 19h2v1h-2zM24 19h3v1h-3zM0 20h1v1h-1zM2 20h1v1h-1zM4 20h1v1h-1zM7 20h3v1h-3zM12 20h2v1h-2zM16 20h2v1h-2zM19 20h3v1h-3zM25 20h3v1h-3zM30 20h3v1h-3zM1 21h2v1h-2zM5 21h4v1h-4zM10 21h1v1h-1zM14 21h1v1h-1zM16 21h1v1h-1zM18 21h2v1h-2zM21 21h1v1h-1zM23 21h4v1h-4zM29 21h3v1h-3zM0 22h4v1h-4zM9 22h2v1h-2zM13 22h1v1h-1zM15 22h7v1h-7zM23 22h1v1h-1zM25 22h2v1h-2zM29 22h4v1h-4zM1 23h2v1h-2zM4 23h2v1h-2zM8 23h3v1h-3zM12 23h1v1h-1zM15 23h2v1h-2zM19 23h1v1h-1zM21 23h3v1h-3zM28 23h3v1h-3zM0 24h4v1h-4zM5 24h1v1h-1zM11 24h3v1h-3zM15 24h2v1h-2zM18 24h3v1h-3zM22 24h1v1h-1zM26 24h4v1h-4zM31 24h2v1h-2zM8 25h1v1h-1zM10 25h1v1h-1zM12 25h4v1h-4zM18 25h2v1h-2zM22 25h1v1h-1zM26 25h2v1h-2zM31 25h2v1h-2zM0 26h7v1h-7zM8 26h1v1h-1zM11 26h1v1h-1zM14 26h5v1h-5zM21 26h3v1h-3zM25 26h3v1h-3zM30 26h3v1h-3zM0 27h1v1h-1zM6 27h1v1h-1zM9 27h1v1h-1zM11 27h2v1h-2zM15 27h2v1h-2zM18 27h2v1h-2zM21 27h1v1h-1zM23 27h1v1h-1zM25 27h3v1h-3zM31 27h1v1h-1zM0 28h1v1h-1zM2 28h3v1h-3zM6 28h1v1h-1zM10 28h2v1h-2zM14 28h2v1h-2zM17 28h1v1h-1zM21 28h1v1h-1zM23 28h2v1h-2zM27 28h3v1h-3zM31 28h2v1h-2zM0 29h1v1h-1zM2 29h3v1h-3zM6 29h1v1h-1zM8 29h1v1h-1zM12 29h2v1h-2zM15 29h1v1h-1zM17 29h3v1h-3zM21 29h2v1h-2zM25 29h8v1h-8zM0 30h1v1h-1zM2 30h3v1h-3zM6 30h1v1h-1zM9 30h1v1h-1zM11 30h1v1h-1zM16 30h1v1h-1zM18 30h1v1h-1zM21 30h1v1h-1zM24 30h2v1h-2zM27 30h1v1h-1zM29 30h1v1h-1zM31 30h1v1h-1zM0 31h1v1h-1zM6 31h1v1h-1zM11 31h1v1h-1zM13 31h1v1h-1zM16 31h1v1h-1zM21 31h1v1h-1zM24 31h1v1h-1zM26 31h1v1h-1zM29 31h1v1h-1zM31 31h2v1h-2zM0 32h7v1h-7zM8 32h4v1h-4zM13 32h1v1h-1zM16 32h2v1h-2zM19 32h6v1h-6zM27 32h1v1h-1zM29 32h2v1h-2zM32 32h1v1h-1z" fill="#1a1210"/><text x="16.500" y="17.800" font-family="Liberation Serif,serif" font-weight="700" font-size="3.800" text-anchor="middle" fill="#111">NIDA Poll</text></svg>
</div></body></html>
